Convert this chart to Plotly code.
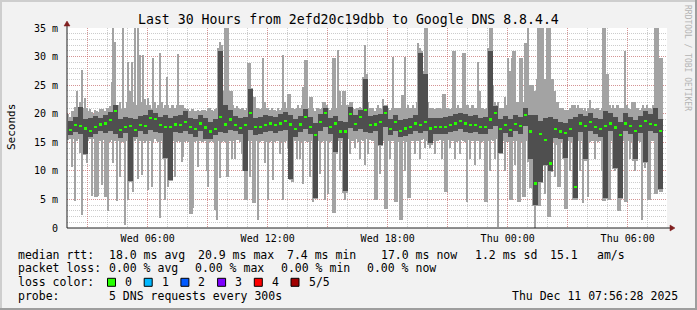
import plotly.graph_objects as go
import pandas as pd

# ---------------- data (milliseconds) ----------------
# lightest smoke: fastest / slowest ping, three 5-minute probes per 15-minute slot
rtt_max_5min = [
    [20.0, 19.5, 20.5], [20.5, 21.2, 24.0], [21.0, 22.0, 27.7], [21.0, 22.7, 21.0],
    [20.5, 20.8, 20.3], [20.0, 20.6, 20.4], [20.3, 20.9, 20.9], [20.9, 20.5, 21.0],
    [21.0, 21.3, 25.6], [35.0, 32.6, 21.5], [21.5, 22.0, 20.8], [35.0, 21.0, 22.0],
    [29.0, 24.0, 29.0], [22.0, 35.0, 21.5], [35.0, 30.3, 22.0], [30.3, 22.5, 21.5],
    [22.7, 21.5, 20.8], [29.7, 22.0, 21.0], [21.5, 30.6, 22.0], [21.0, 21.5, 26.5],
    [21.5, 21.0, 21.5], [21.5, 21.0, 21.5], [30.4, 21.5, 21.5], [21.5, 21.0, 20.8],
    [20.8, 20.5, 20.8], [20.8, 20.5, 20.5], [20.7, 20.4, 20.6], [20.7, 20.7, 20.5],
    [21.0, 21.0, 20.6], [20.5, 20.8, 21.0], [31.5, 32.6, 32.0], [24.0, 35.0, 35.0],
    [35.0, 24.0, 24.0], [21.5, 21.0, 21.3], [21.0, 20.8, 21.0], [21.0, 20.7, 21.0],
    [28.8, 28.8, 24.5], [23.0, 23.0, 21.0], [21.0, 20.8, 21.0], [29.7, 22.0, 21.0],
    [21.0, 20.6, 21.0], [20.6, 20.6, 20.4], [21.0, 20.7, 21.0], [30.3, 22.0, 21.0],
    [23.5, 23.5, 21.0], [21.0, 20.8, 21.0], [21.5, 21.0, 21.5], [24.7, 29.4, 29.4],
    [21.0, 23.0, 23.0], [21.0, 20.5, 21.0], [21.0, 20.8, 21.0], [22.0, 22.0, 21.5],
    [21.0, 20.6, 21.0], [29.7, 29.7, 21.0], [31.2, 24.0, 21.5], [24.0, 24.0, 21.5],
    [21.5, 22.0, 22.0], [21.0, 20.8, 21.0], [21.0, 21.2, 21.0], [26.5, 32.0, 27.0],
    [22.0, 21.0, 21.0], [21.0, 20.5, 21.0], [21.5, 21.0, 20.8], [22.5, 21.5, 21.5],
    [21.0, 20.7, 21.0], [30.0, 21.0, 21.0], [21.0, 21.0, 23.2], [23.2, 30.0, 21.0],
    [21.5, 21.0, 21.0], [21.5, 21.0, 22.0], [32.4, 31.5, 31.0], [27.5, 35.0, 35.0],
    [22.0, 21.0, 21.0], [21.0, 20.8, 21.0], [21.0, 21.0, 20.8], [23.5, 23.5, 21.0],
    [21.0, 20.8, 21.0], [31.0, 31.0, 21.0], [21.5, 21.0, 21.0], [30.6, 30.6, 21.5],
    [21.5, 21.0, 21.5], [21.5, 21.0, 21.0], [29.0, 24.0, 21.0], [21.0, 20.8, 21.0],
    [31.5, 35.0, 35.0], [25.0, 22.0, 21.5], [22.0, 21.0, 21.0], [21.0, 23.0, 21.5],
    [29.7, 27.4, 29.7], [31.0, 31.0, 22.0], [22.0, 29.7, 29.7], [22.0, 32.4, 32.4],
    [35.0, 25.0, 25.0], [25.0, 24.0, 26.0], [35.0, 35.0, 35.0], [35.0, 26.0, 35.0],
    [35.0, 35.0, 26.0], [26.0, 24.0, 22.0], [22.0, 21.0, 21.0], [21.0, 20.6, 20.6],
    [20.6, 21.0, 21.5], [21.5, 21.5, 21.0], [21.5, 21.0, 21.0], [20.6, 21.0, 20.5],
    [21.0, 22.4, 21.0], [21.0, 20.8, 21.0], [21.0, 20.6, 21.0], [35.0, 35.0, 27.0],
    [27.0, 21.5, 21.0], [21.5, 21.0, 21.5], [21.5, 21.0, 21.0], [21.0, 31.0, 21.5],
    [21.0, 20.8, 22.0], [22.0, 22.0, 21.0], [21.0, 20.7, 21.0], [21.5, 21.0, 21.5],
    [21.0, 21.0, 20.8], [21.5, 35.0, 35.0], [35.0, 29.7, 29.7]]
rtt_min_5min = [
    [15.4, 15.6, 10.7], [15.5, 4.8, 15.3], [15.5, 13.1, 2.3], [12.8, 12.8, 11.3],
    [15.3, 15.6, 5.6], [15.5, 5.4, 5.4], [5.6, 15.2, 7.5], [15.4, 5.4, 5.4],
    [2.9, 15.0, 15.4], [11.3, 15.3, 4.8], [15.2, 9.0, 15.0], [15.0, 0.5, 15.3],
    [4.9, 8.0, 8.0], [6.3, 15.2, 15.5], [8.5, 15.3, 9.3], [15.2, 14.8, 15.3],
    [6.6, 15.2, 7.2], [15.0, 15.5, 15.2], [15.0, 1.7, 15.2], [12.0, 4.9, 12.0],
    [7.2, 8.2, 8.2], [15.2, 9.0, 15.0], [15.3, 15.0, 11.6], [12.5, 15.0, 15.3],
    [15.0, 2.5, 2.5], [3.5, 15.0, 15.2], [10.7, 15.2, 15.0], [15.0, 15.2, 10.0],
    [7.2, 15.0, 15.3], [15.0, 3.2, 1.4], [15.2, 8.7, 15.0], [15.2, 15.0, 9.0],
    [9.0, 15.3, 12.0], [15.2, 12.0, 15.4], [15.4, 15.0, 13.0], [10.0, 4.9, 4.9],
    [15.3, 9.0, 15.2], [4.3, 4.3, 15.2], [1.4, 15.0, 15.3], [15.2, 11.3, 15.0],
    [4.9, 15.0, 15.3], [8.4, 15.0, 15.2], [15.3, 13.0, 15.1], [4.9, 15.0, 15.3],
    [14.0, 8.4, 8.0], [8.0, 15.2, 12.0], [15.3, 12.0, 15.0], [7.7, 15.2, 15.0],
    [15.0, 9.0, 15.3], [4.6, 5.0, 5.0], [15.2, 9.5, 15.0], [15.2, 4.9, 15.3],
    [6.0, 15.0, 15.3], [2.6, 2.6, 13.0], [15.3, 10.0, 15.2], [6.2, 4.9, 6.2],
    [15.5, 13.0, 15.3], [15.3, 14.0, 15.5], [15.0, 12.0, 15.4], [15.2, 11.0, 15.5],
    [13.0, 15.4, 15.2], [15.3, 4.9, 4.9], [14.3, 9.5, 14.3], [15.2, 3.4, 3.4],
    [15.2, 12.0, 15.3], [15.3, 4.6, 4.6], [15.0, 1.4, 1.4], [15.2, 10.0, 15.0],
    [5.2, 5.2, 15.2], [15.3, 13.0, 15.3], [15.2, 12.0, 15.4], [15.5, 14.0, 15.3],
    [14.5, 14.0, 14.5], [15.3, 13.0, 15.2], [15.2, 15.4, 12.0], [15.2, 6.3, 6.3],
    [15.4, 14.0, 15.3], [15.2, 12.0, 15.0], [15.3, 13.0, 15.4], [15.3, 15.0, 4.6],
    [15.4, 12.0, 15.2], [15.2, 11.0, 15.3], [15.3, 12.0, 15.0], [15.2, 4.6, 4.6],
    [15.3, 10.0, 15.4], [15.2, 12.0, 15.5], [0.2, 13.0, 13.0], [15.2, 10.0, 15.0],
    [15.0, 4.9, 4.9], [15.2, 11.0, 15.3], [4.6, 4.6, 15.0], [5.5, 5.5, 15.2],
    [11.5, 7.0, 7.0], [3.8, 0.0, 3.8], [3.8, 3.8, 7.8], [10.8, 6.0, 10.8],
    [2.0, 2.0, 9.8], [15.0, 9.0, 14.5], [7.2, 7.2, 15.0], [12.0, 3.4, 3.4],
    [15.2, 10.0, 15.0], [4.9, 4.9, 4.9], [15.3, 10.0, 15.2], [4.3, 11.8, 11.8],
    [5.5, 15.0, 15.3], [15.2, 12.0, 15.3], [15.0, 15.3, 10.0], [4.8, 4.8, 5.0],
    [4.9, 4.9, 15.2], [10.3, 10.0, 10.3], [2.9, 2.9, 5.0], [15.2, 4.6, 4.6],
    [15.3, 12.0, 15.0], [11.8, 10.0, 11.8], [15.2, 15.0, 1.4], [11.3, 10.5, 11.3],
    [4.9, 4.9, 15.2], [15.3, 6.0, 6.0], [6.7, 6.3, 6.3]]
# darker smoke (2nd fastest .. 2nd slowest) and median, one value per 15-minute slot
rtt_p4 = [18.8, 19.4, 21.2, 19.0, 19.2, 19.6, 19.3, 19.8, 20.3, 21.5,
          19.0, 19.4, 19.2, 19.0, 19.6, 19.8, 20.6, 20.2, 19.4, 19.8,
          19.2, 19.6, 19.8, 20.4, 19.3, 19.0, 19.7, 19.2, 18.6, 19.0,
          31.0, 21.5, 20.6, 19.6, 19.3, 19.5, 24.3, 19.2, 19.4, 19.8,
          19.6, 19.5, 19.9, 20.3, 19.7, 19.0, 19.6, 20.8, 19.5, 18.4,
          19.9, 21.0, 19.3, 19.6, 18.8, 18.6, 21.2, 19.7, 20.6, 26.0,
          19.6, 19.8, 19.9, 21.4, 19.0, 19.8, 18.9, 19.0, 19.3, 19.8,
          30.6, 27.0, 19.2, 19.3, 19.2, 19.4, 19.6, 20.0, 20.2, 20.0,
          19.6, 19.7, 19.3, 19.4, 31.0, 21.3, 19.0, 19.6, 19.0, 19.8,
          19.4, 21.0, 19.7, 19.8, 18.8, 19.2, 19.5, 19.0, 18.6, 18.4,
          19.0, 19.4, 20.0, 19.6, 20.2, 19.3, 19.0, 20.4, 20.1, 19.4,
          18.5, 20.2, 19.5, 18.9, 19.6, 20.5, 20.0, 21.0, 19.0]
rtt_median = [17.1, 18.0, 17.8, 17.4, 17.0, 17.7, 18.1, 18.3, 18.9, 20.5,
              17.2, 17.7, 17.9, 17.1, 18.0, 17.9, 19.3, 19.1, 18.0, 17.7,
              17.7, 18.1, 18.0, 18.5, 17.7, 17.3, 18.3, 17.6, 16.9, 17.3,
              19.4, 18.1, 19.0, 18.0, 17.5, 18.0, 20.1, 17.7, 17.7, 18.0,
              18.3, 18.0, 18.3, 18.7, 18.1, 17.3, 18.1, 19.4, 17.7, 16.3,
              18.5, 20.1, 17.7, 18.3, 16.9, 16.9, 19.9, 18.2, 19.4, 20.6,
              18.0, 18.1, 18.5, 20.1, 17.3, 18.5, 17.0, 17.4, 17.7, 18.3,
              18.0, 18.6, 17.4, 17.7, 17.7, 17.7, 18.0, 18.3, 18.7, 18.3,
              18.0, 18.0, 17.7, 17.7, 19.0, 20.1, 17.3, 18.0, 17.2, 18.2,
              17.8, 19.8, 16.9, 7.8, 16.5, 15.4, 11.3, 17.3, 16.9, 16.6,
              17.3, 7.2, 18.3, 17.9, 18.5, 17.7, 17.3, 17.8, 18.3, 17.6,
              16.3, 18.3, 17.8, 17.0, 17.9, 18.7, 18.2, 18.0, 17.0]
rtt_p2 = [16.2, 16.8, 16.5, 13.0, 16.0, 16.4, 16.9, 16.7, 17.0, 16.5,
          15.8, 16.6, 8.2, 16.0, 16.9, 16.5, 17.2, 16.8, 16.6, 12.2,
          8.4, 16.8, 16.6, 17.0, 16.5, 16.0, 16.9, 15.5, 15.6, 16.2,
          16.8, 16.7, 17.2, 16.9, 16.4, 10.0, 17.2, 16.3, 16.5, 16.8,
          16.9, 16.7, 17.0, 17.2, 8.5, 15.9, 16.8, 17.4, 16.4, 5.2,
          16.9, 17.6, 16.5, 13.3, 15.8, 6.4, 17.5, 16.9, 17.3, 16.8,
          16.7, 16.9, 14.5, 17.6, 16.2, 16.9, 15.9, 16.1, 16.4, 16.9,
          16.7, 17.0, 14.8, 16.5, 16.5, 16.4, 16.8, 16.9, 17.3, 16.8,
          16.7, 16.8, 16.5, 16.4, 17.4, 17.8, 13.1, 16.6, 16.0, 16.9,
          16.5, 17.8, 12.0, 4.0, 8.0, 11.0, 10.0, 15.8, 15.5, 12.2,
          15.9, 5.2, 16.8, 12.0, 17.0, 16.4, 15.9, 5.2, 16.9, 10.5,
          5.2, 16.9, 16.5, 12.0, 16.6, 11.5, 16.9, 16.7, 6.9]

y_tick_values = [0, 5, 10, 15, 20, 25, 30, 35]
y_tick_labels = ["0", "5 m", "10 m", "15 m", "20 m", "25 m", "30 m", "35 m"]
x_tick_times = ["2025-12-10 03:00", "2025-12-10 06:00", "2025-12-10 09:00",
                "2025-12-10 12:00", "2025-12-10 15:00", "2025-12-10 18:00",
                "2025-12-10 21:00", "2025-12-11 00:00", "2025-12-11 03:00",
                "2025-12-11 06:00"]
x_tick_labels = ["", "Wed 06:00", "", "Wed 12:00", "", "Wed 18:00",
                 "", "Thu 00:00", "", "Thu 06:00"]

title_text = "Last 30 Hours from 2efd20c19dbb to Google DNS 8.8.4.4"
stats_rtt = ["median rtt:", "18.0 ms avg", "20.9 ms max", "7.4 ms min",
             "17.0 ms now", "1.2 ms sd", "15.1", "am/s"]
stats_loss = ["packet loss:", "0.00 % avg", "0.00 % max", "0.00 % min", "0.00 % now"]
loss_labels = ["0", "1", "2", "3", "4", "5/5"]
loss_colors = ["#26ff00", "#00b8ff", "#0059ff", "#7e00ff", "#ff0000", "#a10000"]
probe_text = ["probe:", "5 DNS requests every 300s"]
stamp_text = "Thu Dec 11 07:56:28 2025"

# ---------------- figure ----------------
FONT = "DejaVu Sans Mono"
LIGHT = "#a3a3a3"
DARK = "#4f4f4f"
MAJ = "rgba(222,79,79,0.45)"
MIN = "rgba(143,143,143,0.45)"

mx5 = [v for trip in rtt_max_5min for v in trip]
mn5 = [v for trip in rtt_min_5min for v in trip]
t5 = pd.date_range("2025-12-10 02:02:30", periods=len(mx5), freq="5min")
t15 = pd.date_range("2025-12-10 02:07:30", periods=len(rtt_median), freq="15min")
w5 = 5 * 60 * 1000
w15 = 15 * 60 * 1000

fig = go.Figure()
fig.add_trace(go.Bar(x=t5, base=mn5, y=[a - b for a, b in zip(mx5, mn5)],
                     width=w5, marker=dict(color=LIGHT, line=dict(width=0)),
                     hoverinfo="skip"))
fig.add_trace(go.Bar(x=t15, base=rtt_p2, y=[a - b for a, b in zip(rtt_p4, rtt_p2)],
                     width=w15, marker=dict(color=DARK, line=dict(width=0)),
                     hoverinfo="skip"))
half = 0.2
fig.add_trace(go.Bar(x=t15, base=[m - half for m in rtt_median],
                     y=[2 * half] * len(rtt_median),
                     width=w15 * 0.6, marker=dict(color=loss_colors[0], line=dict(width=0)),
                     hoverinfo="skip"))

hourly = [t.strftime("%Y-%m-%d %H:%M") for t in
          pd.date_range("2025-12-10 02:00", "2025-12-11 07:00", freq="1h")]

fig.update_layout(
    width=697, height=310,
    margin=dict(l=67, r=30, t=28, b=82),
    paper_bgcolor="#f2f2f2", plot_bgcolor="#ffffff",
    showlegend=False, barmode="overlay", bargap=0,
    font=dict(family=FONT, size=10, color="#000000"),
    xaxis=dict(type="date",
               range=["2025-12-10 01:57:54", "2025-12-11 07:57:54"],
               tickmode="array", tickvals=x_tick_times, ticktext=x_tick_labels,
               showgrid=True, gridcolor=MAJ, gridwidth=1, griddash="1px,1px",
               minor=dict(tickmode="array", tickvals=hourly, showgrid=True,
                          gridcolor=MIN, gridwidth=1, griddash="1px,1px"),
               zeroline=False, showline=False, ticks="",
               tickfont=dict(family=FONT, size=10), ticklabelstandoff=3),
    yaxis=dict(range=[0, 35], tickmode="array", tickvals=y_tick_values,
               ticktext=y_tick_labels,
               showgrid=True, gridcolor=MAJ, gridwidth=1, griddash="1px,1px",
               minor=dict(tickmode="array", tickvals=list(range(0, 36)),
                          showgrid=True, gridcolor=MIN, gridwidth=1,
                          griddash="1px,1px"),
               zeroline=False, showline=False, ticks="",
               tickfont=dict(family=FONT, size=10), ticklabelstandoff=8),
)


def px(x):
    return (x - 67) / 600.0


def py(y):
    return (228 - y) / 200.0


shapes = []
# frame shading
shapes.append(dict(type="rect", xref="paper", yref="paper", x0=px(0), x1=px(697),
                   y0=py(0), y1=py(2), fillcolor="#cecece", line=dict(width=0)))
shapes.append(dict(type="rect", xref="paper", yref="paper", x0=px(0), x1=px(2),
                   y0=py(0), y1=py(310), fillcolor="#cecece", line=dict(width=0)))
shapes.append(dict(type="rect", xref="paper", yref="paper", x0=px(0), x1=px(697),
                   y0=py(308), y1=py(310), fillcolor="#9e9e9e", line=dict(width=0)))
shapes.append(dict(type="rect", xref="paper", yref="paper", x0=px(695), x1=px(697),
                   y0=py(0), y1=py(310), fillcolor="#9e9e9e", line=dict(width=0)))
# axes
shapes.append(dict(type="line", xref="paper", yref="paper", x0=px(67), x1=px(67),
                   y0=py(228), y1=py(24), line=dict(color="#1f1f1f", width=1)))
shapes.append(dict(type="line", xref="paper", yref="paper", x0=px(67), x1=px(671),
                   y0=py(228), y1=py(228), line=dict(color="#1f1f1f", width=1)))
# arrows
shapes.append(dict(type="path", xref="paper", yref="paper",
                   path="M %f,%f L %f,%f L %f,%f Z" % (px(67), py(21), px(64), py(26),
                                                     px(70), py(26)),
                   fillcolor="#801f1f", line=dict(color="#801f1f", width=0.5)))
shapes.append(dict(type="path", xref="paper", yref="paper",
                   path="M %f,%f L %f,%f L %f,%f Z" % (px(675), py(228), px(670), py(225),
                                                     px(670), py(231)),
                   fillcolor="#801f1f", line=dict(color="#801f1f", width=0.5)))

ann = []


def text(x, y, s, size=11.5, anchor="left", color="#000000", angle=0):
    ann.append(dict(xref="paper", yref="paper", x=px(x), y=py(y), text=s,
                    showarrow=False, xanchor=anchor, yanchor="middle",
                    textangle=angle, font=dict(family=FONT, size=size, color=color)))


text(348, 19, title_text, size=13.2, anchor="center")
text(11, 127, "Seconds", size=11, anchor="center", angle=-90)
text(688, 58, "RRDTOOL / TOBI OETIKER", size=8, anchor="center",
     color="#b4b4b4", angle=90)

row_y = [254.7, 268.3, 282.3, 296.0]
rtt_x = [16, 107, 196, 285, 379, 473, 548, 595]
for x, s in zip(rtt_x, stats_rtt):
    text(x, row_y[0], s)
loss_x = [16, 107, 193, 279, 365]
for x, s in zip(loss_x, stats_loss):
    text(x, row_y[1], s)
text(16, row_y[2], "loss color:")
for k, (lab, col) in enumerate(zip(loss_labels, loss_colors)):
    bx = 107.5 + 36.7 * k
    shapes.append(dict(type="rect", xref="paper", yref="paper",
                       x0=px(bx), x1=px(bx + 8), y0=py(row_y[2] - 4), y1=py(row_y[2] + 4),
                       fillcolor=col, line=dict(color="#000000", width=1)))
    text(bx + 15.5, row_y[2], lab)
text(16, row_y[3], probe_text[0])
text(107, row_y[3], probe_text[1])
text(680, row_y[3], stamp_text, anchor="right")

fig.update_layout(shapes=shapes, annotations=ann)
fig.write_html("out.html")
